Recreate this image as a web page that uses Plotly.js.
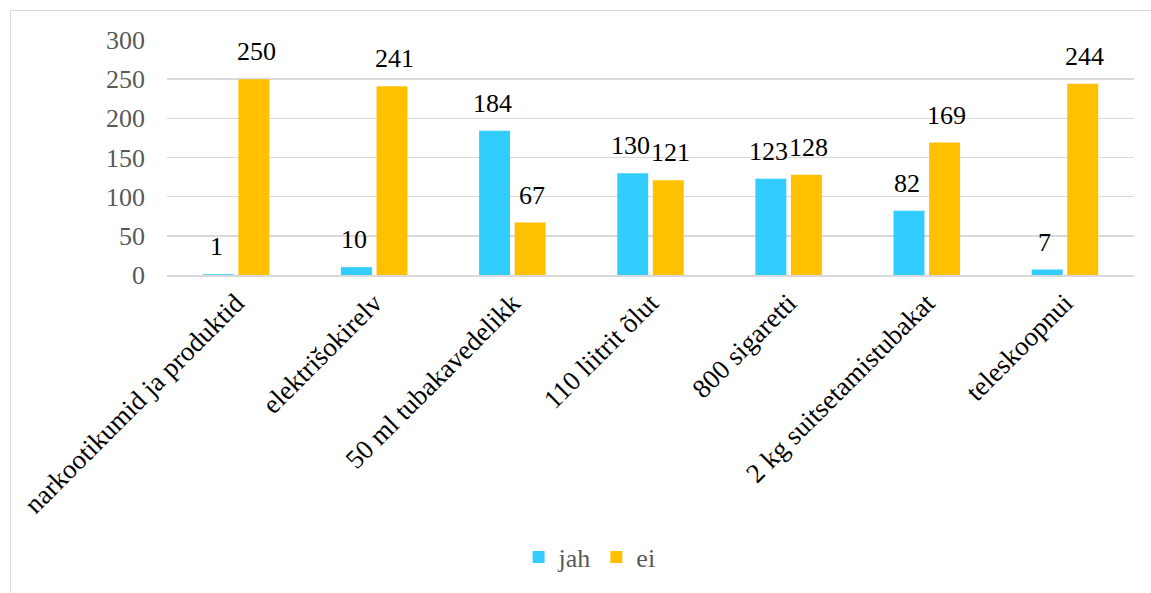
<!DOCTYPE html>
<html>
<head>
<meta charset="utf-8">
<script src="https://cdn.plot.ly/plotly-3.0.1.min.js"></script>
<style>
html,body{margin:0;padding:0;background:#fff;overflow:hidden;}
#chart{width:1151px;height:593px;}
#frame{position:absolute;left:10px;top:10px;width:1200px;height:700px;border:1.5px solid #d9d9d9;pointer-events:none;box-sizing:border-box;}
</style>
</head>
<body>
<div id="chart"></div>
<div id="frame"></div>
<script>
const categories = ["narkootikumid ja produktid","elektrišokirelv","50 ml tubakavedelikk","110 liitrit õlut","800 sigaretti","2 kg suitsetamistubakat","teleskoopnui"];
const jah = [1,10,184,130,123,82,7];
const ei = [250,241,67,121,128,169,244];
const yTicks = [0,50,100,150,200,250,300];

const font = "Liberation Serif";
const traces = [
  {type:"bar", name:"jah", x:categories, y:jah, marker:{color:"#33CCFF"}, hoverinfo:"none"},
  {type:"bar", name:"ei", x:categories, y:ei, marker:{color:"#FFC000"}, hoverinfo:"none"}
];
const annotations = [];
categories.forEach((c,i)=>{
  annotations.push({x:c, y:jah[i], xref:"x", yref:"y", text:String(jah[i]), showarrow:false, xshift:-20, yshift:11, yanchor:"bottom", font:{family:font,size:26,color:"#000"}});
  annotations.push({x:c, y:ei[i], xref:"x", yref:"y", text:String(ei[i]), showarrow:false, xshift:20, yshift:11, yanchor:"bottom", font:{family:font,size:26,color:"#000"}});
});
const layout = {
  width:1151, height:593,
  margin:{l:167, r:17, t:40, b:316},
  paper_bgcolor:"#fff", plot_bgcolor:"#fff",
  font:{family:font},
  barmode:"group", bargap:0.485, bargroupgap:0.13,
  showlegend:true,
  legend:{orientation:"h", x:0.437, xanchor:"center", y:-1.2, yanchor:"middle", font:{family:font,size:26,color:"#595959"}, itemwidth:30, tracegroupgap:0},
  xaxis:{type:"category", tickangle:-45, tickfont:{family:font,size:27,color:"#000"}, showgrid:false, showline:true, linecolor:"#d9d9d9", linewidth:1.5, ticks:"", automargin:false},
  yaxis:{range:[0,300], tickvals:yTicks, ticktext:yTicks.map(String), tickfont:{family:font,size:26,color:"#595959"}, showgrid:true, gridcolor:"#d9d9d9", gridwidth:1.5, zeroline:false, showline:false, ticks:"", ticklabelstandoff:21, automargin:false},
  annotations:annotations
};
Plotly.newPlot("chart", traces, layout, {displayModeBar:false, staticPlot:true});
</script>
</body>
</html>
